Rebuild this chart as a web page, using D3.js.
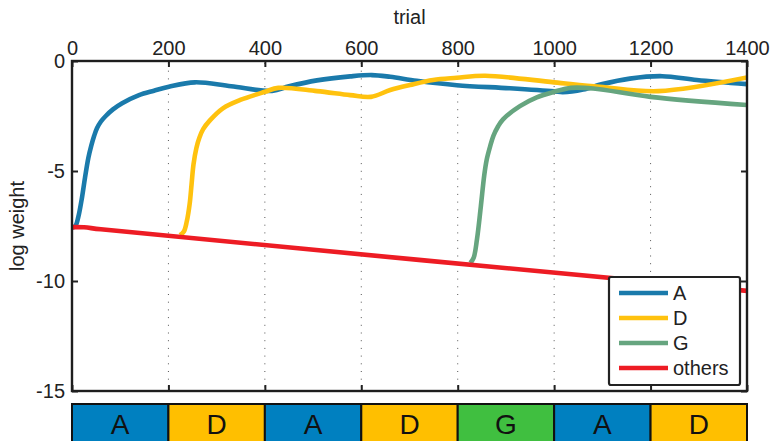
<!DOCTYPE html>
<html>
<head>
<meta charset="utf-8">
<script src="https://cdn.jsdelivr.net/npm/d3@7"></script>
<style>
  html, body { margin: 0; padding: 0; background: #fff; }
  svg { display: block; font-family: "Liberation Sans", Arial, Helvetica, sans-serif; }
</style>
</head>
<body>
<svg id="chart" width="773" height="441"></svg>
<script>
// Log weight per rule over trials
const trialsA = [0, 7, 13, 20, 27, 34, 40, 46, 52, 60, 70, 85, 104, 139, 170, 201, 255, 330, 415, 450, 508, 577, 622, 660, 715, 798, 908, 1000, 1018, 1060, 1100, 1157, 1224, 1296, 1400];
const valuesA = [-7.58, -7.5, -7.1, -6.3, -5.3, -4.4, -3.85, -3.4, -3.05, -2.75, -2.5, -2.2, -1.92, -1.55, -1.35, -1.17, -0.97, -1.15, -1.36, -1.15, -0.88, -0.7, -0.64, -0.72, -0.9, -1.1, -1.24, -1.38, -1.42, -1.3, -1.05, -0.8, -0.69, -0.86, -1.05];

const trialsD = [224, 232, 238, 244, 248, 252, 258, 264, 272, 286, 313, 349, 400, 428, 508, 577, 620, 660, 701, 749, 798, 857, 1000, 1095, 1216, 1400];
const valuesD = [-7.92, -7.75, -7.3, -6.5, -5.6, -4.7, -3.95, -3.5, -3.1, -2.7, -2.15, -1.77, -1.4, -1.22, -1.37, -1.55, -1.63, -1.32, -1.09, -0.86, -0.76, -0.67, -0.97, -1.17, -1.37, -0.75];

const trialsG = [826, 833, 840, 848, 855, 860, 867, 874, 883, 894, 929, 964, 1000, 1035, 1081, 1200, 1400];
const valuesG = [-9.18, -8.95, -8.1, -6.6, -5.2, -4.5, -3.9, -3.4, -3.0, -2.65, -2.05, -1.65, -1.4, -1.22, -1.25, -1.63, -2.0];

const trialsOthers = [0, 25, 60, 1400];
const valuesOthers = [-7.55, -7.56, -7.65, -10.45];

const seriesNames = ["A", "D", "G", "others"];
const seriesColors = ["#1a7aab", "#ffc20e", "#66a57f", "#ed1c24"];

// Block sequence shown under the axis
const blockLabels = ["A", "D", "A", "D", "G", "A", "D"];
const blockColors = { A: "#0080c0", D: "#ffbf00", G: "#40bf40" };
const blockLength = 200;

const xTicks = [0, 200, 400, 600, 800, 1000, 1200, 1400];
const yTicks = [0, -5, -10, -15];

const svg = d3.select("#chart");
const plotLeft = 72, plotRight = 747, plotTop = 61, plotBottom = 391;

const x = d3.scaleLinear().domain([0, 1400]).range([plotLeft, plotRight]);
const y = d3.scaleLinear().domain([-15, 0]).range([plotBottom, plotTop]);

// plain number labels with an ASCII hyphen for negatives
const plainFormat = d => String(d);

// dotted vertical grid
svg.append("g").selectAll("line")
  .data(xTicks.slice(1, -1))
  .join("line")
  .attr("x1", d => x(d)).attr("x2", d => x(d))
  .attr("y1", plotTop + 2).attr("y2", plotBottom)
  .attr("stroke", "#555").attr("stroke-width", 1)
  .attr("stroke-dasharray", "1,6.7");

// series lines
const line = d3.line()
  .x(d => x(d[0])).y(d => y(d[1]))
  .curve(d3.curveCatmullRom.alpha(0.5));

const series = [
  d3.zip(trialsA, valuesA),
  d3.zip(trialsD, valuesD),
  d3.zip(trialsG, valuesG),
  d3.zip(trialsOthers, valuesOthers)
];

svg.append("clipPath").attr("id", "plotclip")
  .append("rect").attr("x", plotLeft).attr("y", plotTop)
  .attr("width", plotRight - plotLeft).attr("height", plotBottom - plotTop);

svg.append("g").attr("clip-path", "url(#plotclip)")
  .selectAll("path")
  .data(series)
  .join("path")
  .attr("d", d => line(d))
  .attr("fill", "none")
  .attr("stroke", (d, i) => seriesColors[i])
  .attr("stroke-width", 4.6)
  .attr("stroke-linejoin", "round");

// axes
const tickColor = "#222";
const fontSize = "20px";

const topAxis = d3.axisTop(x).tickValues(xTicks).tickFormat(plainFormat)
  .tickSizeInner(-6).tickSizeOuter(0).tickPadding(6);
const gTop = svg.append("g").attr("transform", `translate(0,${plotTop})`).call(topAxis);

const bottomAxis = d3.axisBottom(x).tickValues(xTicks).tickSizeInner(-6).tickSizeOuter(0).tickFormat("");
const gBottom = svg.append("g").attr("transform", `translate(0,${plotBottom})`).call(bottomAxis);

const leftAxis = d3.axisLeft(y).tickValues(yTicks).tickFormat(plainFormat)
  .tickSizeInner(-6).tickSizeOuter(0).tickPadding(7);
const gLeft = svg.append("g").attr("transform", `translate(${plotLeft},0)`).call(leftAxis);

const rightAxis = d3.axisRight(y).tickValues(yTicks).tickSizeInner(-6).tickSizeOuter(0).tickFormat("");
const gRight = svg.append("g").attr("transform", `translate(${plotRight},0)`).call(rightAxis);

[gTop, gBottom, gLeft, gRight].forEach(g => {
  g.select(".domain").remove();
  g.selectAll(".tick line").attr("stroke", tickColor).attr("stroke-width", 2);
  g.selectAll(".tick text")
    .attr("fill", "#222")
    .style("font-size", fontSize)
    .style("font-family", "'Liberation Sans', Arial, sans-serif");
});

// legend
const legend = svg.append("g");
legend.append("rect")
  .attr("x", 609).attr("y", 277).attr("width", 131).attr("height", 108)
  .attr("rx", 2)
  .attr("fill", "#fff").attr("stroke", "#222").attr("stroke-width", 2.2);

const legRows = legend.selectAll("g.row")
  .data(seriesNames)
  .join("g")
  .attr("class", "row")
  .attr("transform", (d, i) => `translate(0,${293 + i * 25})`);
legRows.append("line")
  .attr("x1", 619).attr("x2", 668)
  .attr("stroke", (d, i) => seriesColors[i])
  .attr("stroke-width", 4.6);
legRows.append("text")
  .attr("x", 673).attr("dy", "0.35em")
  .attr("fill", "#222")
  .style("font-size", fontSize)
  .text(d => d);

// plot frame
svg.append("rect")
  .attr("x", plotLeft).attr("y", plotTop)
  .attr("width", plotRight - plotLeft).attr("height", plotBottom - plotTop)
  .attr("fill", "none").attr("stroke", "#1e1e1e").attr("stroke-width", 2.4);

// axis titles
svg.append("text")
  .attr("x", (plotLeft + plotRight) / 2).attr("y", 24)
  .attr("text-anchor", "middle").attr("fill", "#222")
  .style("font-size", fontSize)
  .text("trial");

svg.append("text")
  .attr("transform", `translate(24,${(plotTop + plotBottom) / 2}) rotate(-90)`)
  .attr("text-anchor", "middle").attr("fill", "#222")
  .style("font-size", fontSize)
  .text("log weight");

// block band under the plot
const band = svg.append("g");
const bandTop = 404, bandHeight = 42;
band.selectAll("rect")
  .data(blockLabels)
  .join("rect")
  .attr("x", (d, i) => x(i * blockLength))
  .attr("y", bandTop)
  .attr("width", (d, i) => x((i + 1) * blockLength) - x(i * blockLength))
  .attr("height", bandHeight)
  .attr("fill", d => blockColors[d])
  .attr("stroke", "#111").attr("stroke-width", 2);
band.selectAll("text")
  .data(blockLabels)
  .join("text")
  .attr("x", (d, i) => x((i + 0.5) * blockLength))
  .attr("y", 434)
  .attr("text-anchor", "middle")
  .attr("fill", "#111")
  .style("font-size", "28px")
  .text(d => d);
</script>
</body>
</html>
